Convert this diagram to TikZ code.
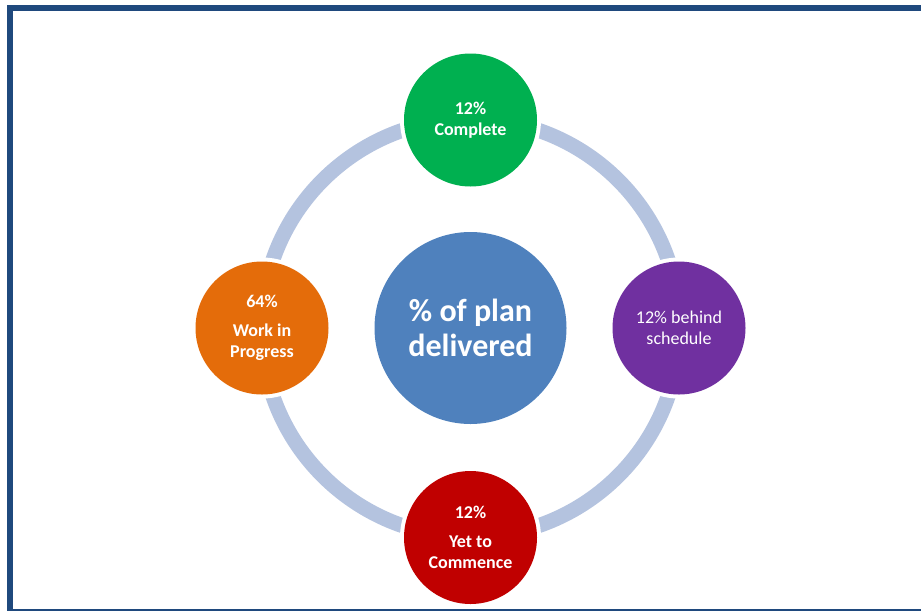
\documentclass[tikz,border=0pt]{standalone}
\usepackage{fontspec}
\setmainfont{Carlito}
\definecolor{frameblue}{HTML}{1F497D}
\definecolor{ringblue}{HTML}{B4C3DF}
\definecolor{cgreen}{HTML}{00B050}
\definecolor{cblue}{HTML}{4F81BD}
\definecolor{corange}{HTML}{E46C0A}
\definecolor{cpurple}{HTML}{7030A0}
\definecolor{cred}{HTML}{C00000}
\begin{document}
\begin{tikzpicture}[x=1pt,y=-1pt,
  bubble/.style={circle,minimum size=133pt,inner sep=0pt,text=white,align=center,
    font=\fontsize{18}{21}\selectfont\bfseries,preaction={draw=white,line width=8pt}},
  hub/.style={circle,minimum size=192pt,inner sep=0pt,text=white,align=center,fill=cblue,
    font=\fontsize{32}{35}\selectfont\bfseries},
  ring/.style={draw=ringblue,line width=15pt}]
\useasboundingbox (0,0) rectangle (921,611);
% frame
\fill[frameblue] (7,5) rectangle (921,11);
\fill[frameblue] (7,5) rectangle (13,611);
\fill[frameblue] (13,609) rectangle (921,610.5);
% ring
\coordinate (c) at (470.5,328);
\draw[ring] (c) circle[radius=209];
% hub
\node[hub] (hub) at (c) {\% of plan\\delivered};
% satellites
\node[bubble,fill=cgreen] (top) at (470.5,120) {12\%\\Complete};
\node[bubble,fill=cred] (bot) at (470.5,537.5) {12\%\\[8pt]Yet to\\Commence};
\node[bubble,fill=corange] (left) at (262,328) {64\%\\[8pt]Work in\\Progress};
\node[bubble,fill=cpurple,font=\fontsize{18}{21}\selectfont] (right) at (679,328) {12\% behind\\schedule};
\end{tikzpicture}
\end{document}
